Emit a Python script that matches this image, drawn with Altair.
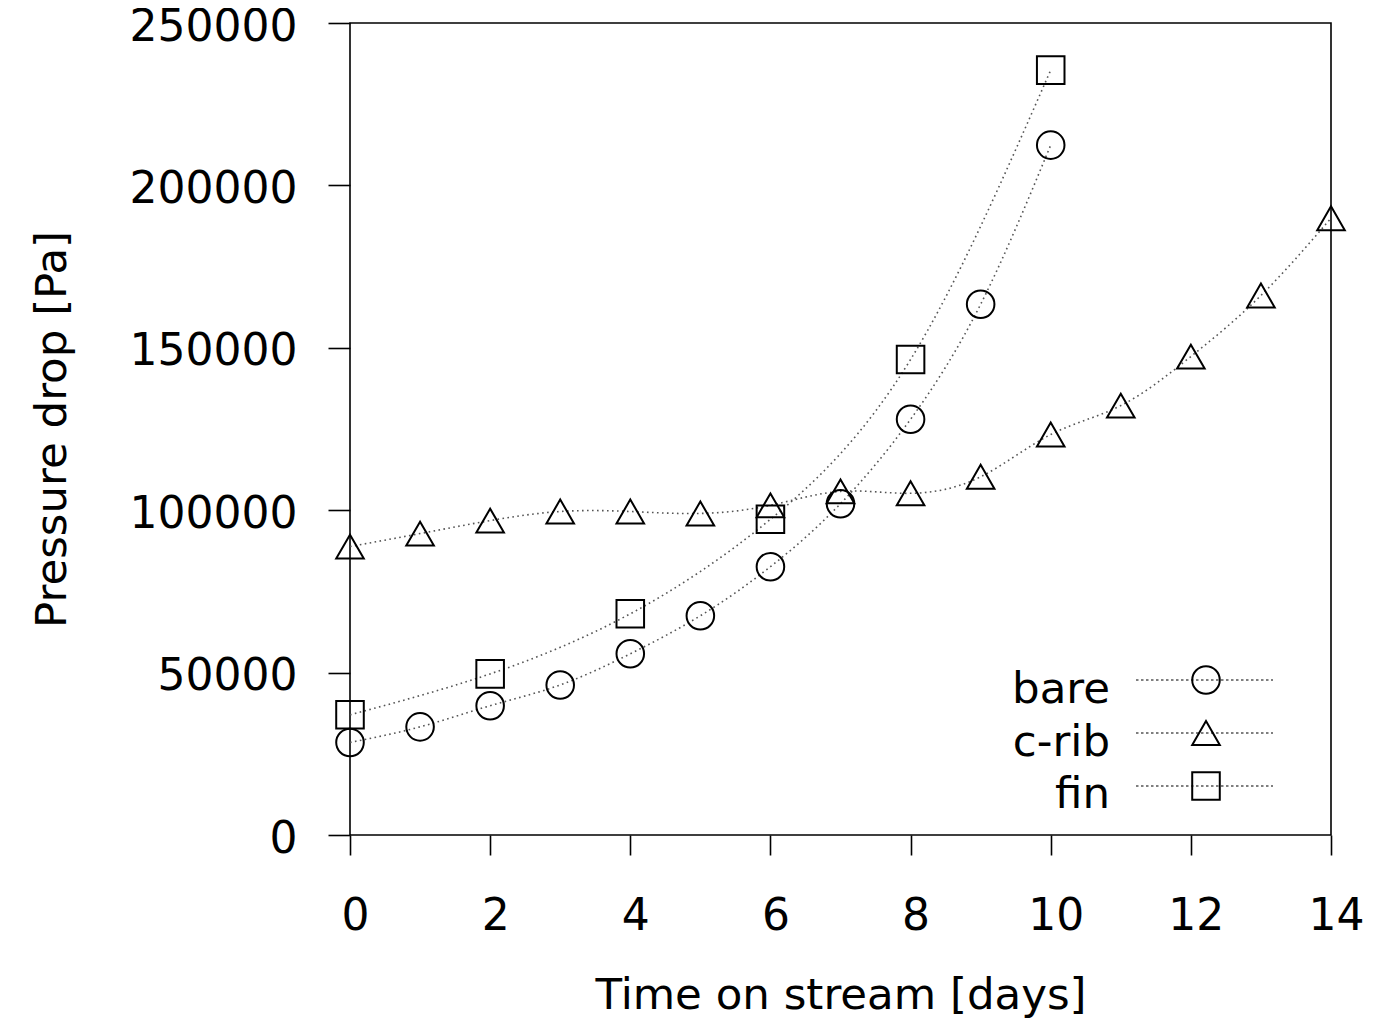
import altair as alt
import pandas as pd

# ---- data ----
series_names = ["bare", "c-rib", "fin"]
series_shapes = ["circle", "triangle-up", "square"]

days_bare = [0, 1, 2, 3, 4, 5, 6, 7, 8, 9, 10]
bare = [28500, 33300, 39800, 46200, 55800, 67500, 82600, 102000, 128000, 163400, 212400]

days_crib = [0, 1, 2, 3, 4, 5, 6, 7, 8, 9, 10, 11, 12, 13, 14]
crib = [88800, 92800, 96800, 99600, 99600, 99000, 101500, 105800, 105200, 110300,
        123300, 132200, 147300, 166100, 189900]

days_fin = [0, 2, 4, 6, 8, 10]
fin = [37000, 49600, 68100, 97200, 146400, 235500]

x_ticks = [0, 2, 4, 6, 8, 10, 12, 14]
y_ticks = [0, 50000, 100000, 150000, 200000, 250000]

rows = []
for d, v in zip(days_bare, bare):
    rows.append({"series": "bare", "day": d, "dp": v})
for d, v in zip(days_crib, crib):
    rows.append({"series": "c-rib", "day": d, "dp": v})
for d, v in zip(days_fin, fin):
    rows.append({"series": "fin", "day": d, "dp": v})
df = pd.DataFrame(rows)

FONT = "DejaVu Sans"
W, H = 981, 812
shape_scale = alt.Scale(domain=series_names, range=series_shapes)

x_enc = alt.X("day:Q",
              scale=alt.Scale(domain=[0, 14], nice=False, zero=False),
              axis=alt.Axis(values=x_ticks, format="d", grid=False, domain=False,
                            tickSize=20, tickWidth=1.6, tickColor="black",
                            labelFontSize=44, labelPadding=39, labelOffset=5,
                            labelFlush=False, labelOverlap=False,
                            labelColor="black", labelFont=FONT,
                            title="Time on stream [days]", titleFontSize=43.5,
                            titleFontWeight="normal", titleFont=FONT, titleColor="black",
                            titleX=W / 2, titleY=173, titleBaseline="alphabetic",
                            titleAnchor="middle", titleAlign="center"))
y_enc = alt.Y("dp:Q",
              scale=alt.Scale(domain=[0, 250000], nice=False),
              axis=alt.Axis(values=y_ticks, format="d", grid=False, domain=False,
                            tickSize=22, tickWidth=1.6, tickColor="black",
                            labelFontSize=44, labelPadding=31, labelOffset=4,
                            labelFlush=False, labelOverlap=False,
                            labelColor="black", labelFont=FONT,
                            title="Pressure drop [Pa]", titleFontSize=43.5,
                            titleFontWeight="normal", titleFont=FONT, titleColor="black",
                            titleAngle=-90, titleX=-298, titleY=H / 2,
                            titleBaseline="middle", titleAlign="center"))

base = alt.Chart(df)

lines = base.mark_line(interpolate="natural", color="#555555", strokeWidth=1.6,
                       strokeDash=[1.6, 3.4], clip=False).encode(
    x=x_enc, y=y_enc, detail="series:N")

points = base.mark_point(filled=False, stroke="black", strokeWidth=2,
                         size=760, opacity=1, clip=False).encode(
    x="day:Q", y="dp:Q",
    shape=alt.Shape("series:N", scale=shape_scale, legend=None))

# ---- manual legend (inside plot, bottom right) ----
leg = pd.DataFrame({"series": series_names,
                    "ly": [657, 710, 763],
                    "lt": [680, 733, 785]})
leg_base = alt.Chart(leg)
leg_lines = leg_base.mark_rule(color="#555555", strokeWidth=1.4,
                               strokeDash=[2.5, 2.5]).encode(
    x=alt.value(786), x2=alt.value(923),
    y=alt.Y("ly:Q", scale=None))
leg_pts = leg_base.mark_point(filled=False, stroke="black", strokeWidth=2,
                              size=760, opacity=1).encode(
    x=alt.value(856), y=alt.Y("ly:Q", scale=None),
    shape=alt.Shape("series:N", scale=shape_scale, legend=None))
leg_text = leg_base.mark_text(align="right", baseline="alphabetic", fontSize=43.5,
                              font=FONT, color="black").encode(
    x=alt.value(760), y=alt.Y("lt:Q", scale=None), text="series:N")

chart = alt.layer(lines, points, leg_lines, leg_pts, leg_text).resolve_scale(
    shape="shared"
).properties(
    width=W, height=H,
    autosize=alt.AutoSizeParams(type="none"),
    padding={"left": 342, "top": 15, "right": 50, "bottom": 185},
).configure(
    font=FONT, background="white",
    view=alt.ViewConfig(stroke="black", strokeWidth=1.6),
)

chart.save("out.html", embed_options={"renderer": "svg", "actions": False})
